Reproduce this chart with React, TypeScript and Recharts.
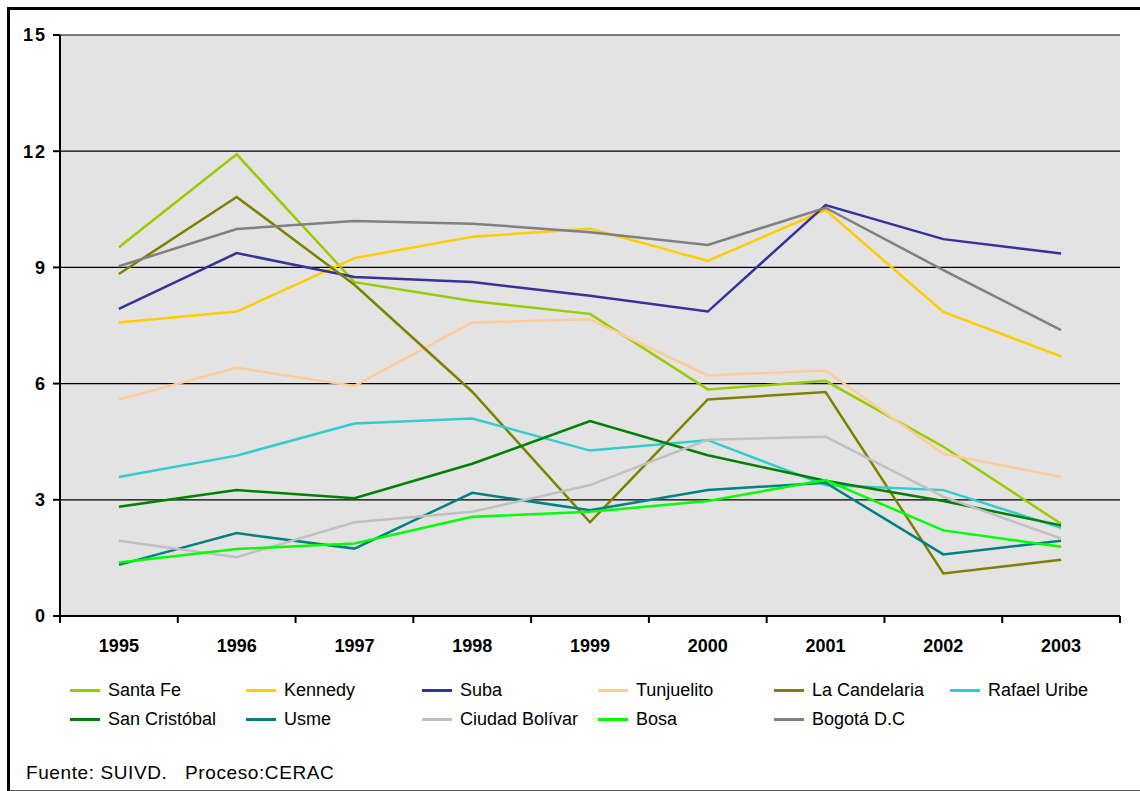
import { LineChart, Line, XAxis, YAxis, CartesianGrid } from 'recharts';

const years = ['1995', '1996', '1997', '1998', '1999', '2000', '2001', '2002', '2003'];
const yTicks = [0, 3, 6, 9, 12, 15];

const santaFe = [9.52, 11.92, 8.62, 8.13, 7.8, 5.85, 6.07, 4.37, 2.38];
const kennedy = [7.58, 7.86, 9.24, 9.79, 10.0, 9.17, 10.48, 7.85, 6.7];
const suba = [7.93, 9.37, 8.75, 8.62, 8.27, 7.86, 10.61, 9.73, 9.36];
const tunjuelito = [5.59, 6.41, 5.94, 7.58, 7.66, 6.21, 6.34, 4.19, 3.59];
const laCandelaria = [8.83, 10.82, 8.55, 5.79, 2.42, 5.59, 5.78, 1.1, 1.45];
const rafaelUribe = [3.59, 4.14, 4.97, 5.1, 4.27, 4.54, 3.38, 3.25, 2.28];
const sanCristobal = [2.82, 3.25, 3.04, 3.93, 5.03, 4.15, 3.49, 2.97, 2.34];
const usme = [1.32, 2.14, 1.74, 3.18, 2.73, 3.25, 3.44, 1.59, 1.94];
const ciudadBolivar = [1.94, 1.52, 2.42, 2.69, 3.38, 4.55, 4.63, 3.08, 2.0];
const bosa = [1.38, 1.73, 1.87, 2.56, 2.69, 2.97, 3.51, 2.21, 1.79];
const bogota = [9.03, 9.99, 10.2, 10.13, 9.91, 9.58, 10.54, 8.93, 7.38];

const series = [
  { key: 'santaFe', name: 'Santa Fe', color: '#99CC00', values: santaFe },
  { key: 'kennedy', name: 'Kennedy', color: '#FFCC00', values: kennedy },
  { key: 'suba', name: 'Suba', color: '#333399', values: suba },
  { key: 'tunjuelito', name: 'Tunjuelito', color: '#FFCC99', values: tunjuelito },
  { key: 'laCandelaria', name: 'La Candelaria', color: '#808000', values: laCandelaria },
  { key: 'rafaelUribe', name: 'Rafael Uribe', color: '#33CCCC', values: rafaelUribe },
  { key: 'sanCristobal', name: 'San Cristóbal', color: '#008000', values: sanCristobal },
  { key: 'usme', name: 'Usme', color: '#008080', values: usme },
  { key: 'ciudadBolivar', name: 'Ciudad Bolívar', color: '#C0C0C0', values: ciudadBolivar },
  { key: 'bosa', name: 'Bosa', color: '#00FF00', values: bosa },
  { key: 'bogota', name: 'Bogotá D.C', color: '#808080', values: bogota },
];

const data = years.map((year, i) => {
  const row: Record<string, string | number> = { year };
  series.forEach((s) => {
    row[s.key] = s.values[i];
  });
  return row;
});

const font = 'Arial, "Liberation Sans", sans-serif';
const tickStyle = { fill: '#000', fontSize: 18, fontWeight: 'bold', fontFamily: font };

// year label plus Excel-style tick marks on the category boundaries
function YearTick(props: any) {
  const { x, y, payload } = props;
  const half = payload.offset || 0;
  const last = payload.index === years.length - 1;
  return (
    <g>
      <line x1={x - half} y1={y} x2={x - half} y2={y + 7} stroke="#000" strokeWidth={2} />
      {last && <line x1={x + half} y1={y} x2={x + half} y2={y + 7} stroke="#000" strokeWidth={2} />}
      <text x={x} y={y + 23} dy="0.71em" textAnchor="middle" {...tickStyle}>
        {payload.value}
      </text>
    </g>
  );
}

export default function App() {
  return (
    <div
      style={{
        position: 'absolute',
        left: 0,
        top: 0,
        width: 1140,
        height: 791,
        overflow: 'hidden',
        background: '#fff',
        fontFamily: font,
      }}
    >
      <div
        style={{
          position: 'absolute',
          left: 7,
          top: 7,
          width: 1150,
          height: 780,
          borderTop: '3px solid #000',
          borderLeft: '3px solid #000',
          borderBottom: '2px solid #555',
        }}
      />
      <div style={{ position: 'absolute', left: 0, top: 0 }}>
        <LineChart
          width={1140}
          height={660}
          data={data}
          margin={{ top: 35, right: 20, bottom: 14, left: 0 }}
        >
          <CartesianGrid
            vertical={false}
            fill="#E3E3E3"
            fillOpacity={1}
            stroke="#000"
            strokeWidth={1.2}
            xAxisId="cat"
            yAxisId="left"
          />
          <XAxis
            xAxisId="cat"
            dataKey="year"
            scale="band"
            height={30}
            axisLine={{ stroke: '#000', strokeWidth: 2 }}
            tickLine={false}
            tickSize={0}
            tickMargin={0}
            tick={<YearTick />}
            interval={0}
          />
          <XAxis
            xAxisId="top"
            orientation="top"
            dataKey="year"
            height={0}
            tick={false}
            tickLine={false}
            axisLine={{ stroke: '#888', strokeWidth: 3 }}
          />
          <YAxis
            yAxisId="left"
            width={60}
            domain={[0, 15]}
            ticks={yTicks}
            interval={0}
            axisLine={{ stroke: '#000', strokeWidth: 2 }}
            tickLine={{ stroke: '#000', strokeWidth: 2 }}
            tickSize={7}
            tickMargin={6}
            tick={{ ...tickStyle, letterSpacing: 2 }}
          />
          <YAxis
            yAxisId="right"
            orientation="right"
            width={0}
            domain={[0, 15]}
            tick={false}
            tickLine={false}
            axisLine={{ stroke: '#888', strokeWidth: 3 }}
          />
          {series.map((s) => (
            <Line
              key={s.key}
              xAxisId="cat"
              yAxisId="left"
              type="linear"
              dataKey={s.key}
              name={s.name}
              stroke={s.color}
              strokeWidth={2.5}
              dot={false}
              isAnimationActive={false}
            />
          ))}
        </LineChart>
      </div>
      <div
        style={{
          position: 'absolute',
          left: 70,
          top: 676,
          display: 'grid',
          gridTemplateColumns: 'repeat(6, 176px)',
          gridAutoRows: 29,
          fontSize: 18,
          color: '#000',
        }}
      >
        {series.map((s) => (
          <div key={s.key} style={{ display: 'flex', alignItems: 'center', whiteSpace: 'nowrap' }}>
            <span
              style={{
                display: 'inline-block',
                width: 30,
                height: 3,
                background: s.color,
                marginRight: 8,
                flexShrink: 0,
              }}
            />
            <span>{s.name}</span>
          </div>
        ))}
      </div>
      <div
        style={{
          position: 'absolute',
          left: 26,
          top: 762,
          fontSize: 19,
          letterSpacing: 0.6,
          color: '#000',
          whiteSpace: 'pre',
        }}
      >
        {'Fuente: SUIVD.   Proceso:CERAC'}
      </div>
    </div>
  );
}
